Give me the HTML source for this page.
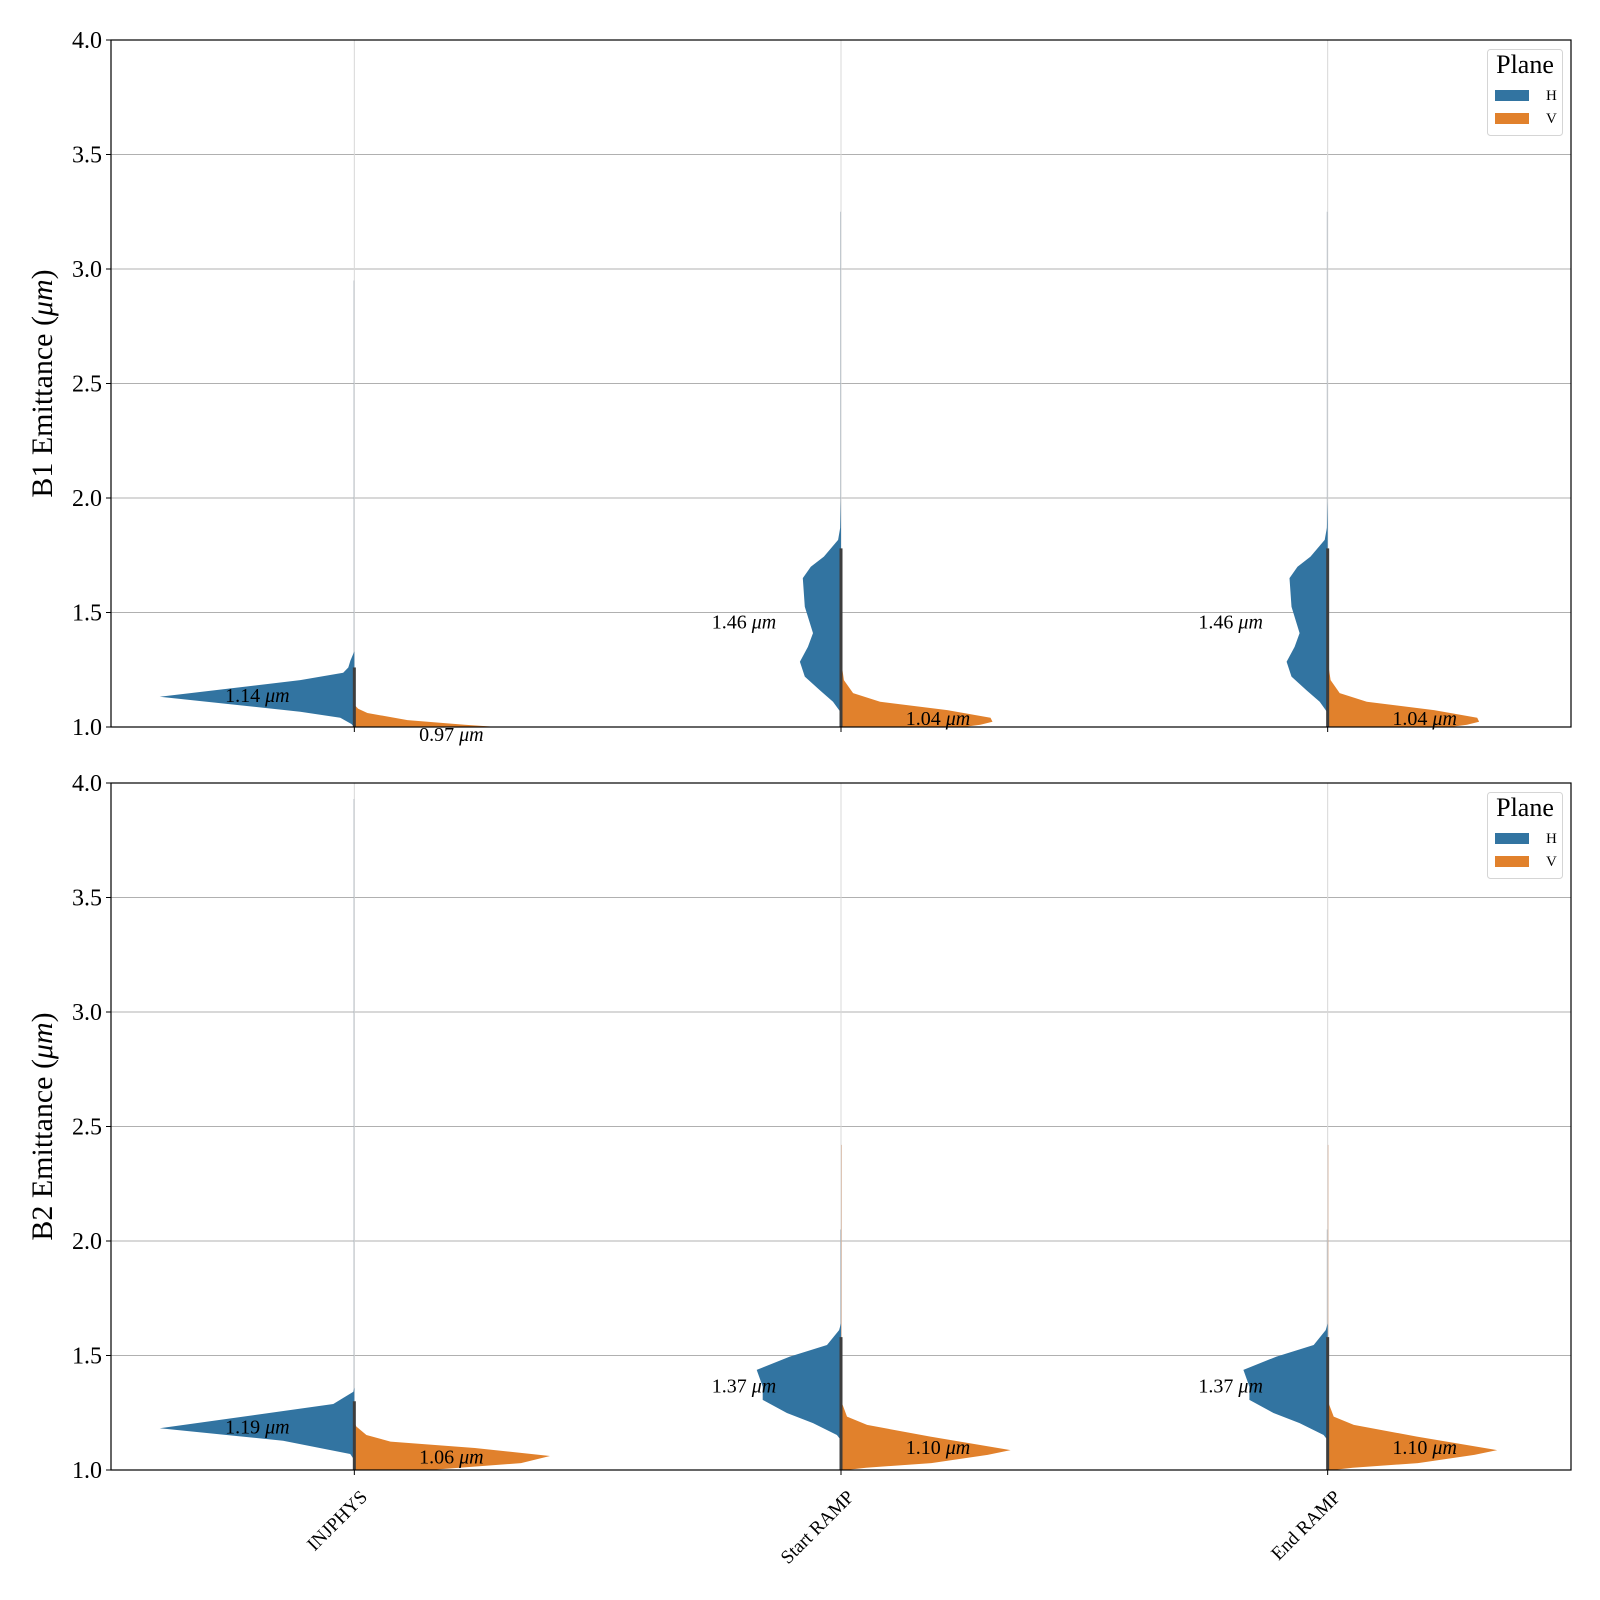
<!DOCTYPE html>
<html><head><meta charset="utf-8">
<style>
html,body{margin:0;padding:0;background:#fff;}
svg{display:block;font-family:"Liberation Serif","DejaVu Serif",serif;}
</style></head>
<body>
<svg id="chart" width="1600" height="1600" viewBox="0 0 1600 1600" xmlns="http://www.w3.org/2000/svg">
<defs>
<clipPath id="clipTop"><rect x="111" y="40" width="1460" height="687"/></clipPath>
<clipPath id="clipBot"><rect x="111" y="783" width="1460" height="687"/></clipPath>
</defs>
</svg>
<script>
// ---- data ----
const categories = ["INJPHYS", "Start RAMP", "End RAMP"];
const yTicks = [1.0, 1.5, 2.0, 2.5, 3.0, 3.5, 4.0];
const yTickLabels = ["1.0", "1.5", "2.0", "2.5", "3.0", "3.5", "4.0"];
// medians [H, V] per category
const b1MedianH = [1.14, 1.46, 1.46];
const b1MedianV = [0.97, 1.04, 1.04];
const b2MedianH = [1.19, 1.37, 1.37];
const b2MedianV = [1.06, 1.10, 1.10];
// tail maximum (thin whisker lines)
const b1TailH = [2.95, 3.25, 3.25];
const b1TailV = [1.10, 1.26, 1.26];
const b2TailH = [3.93, 2.05, 2.05];
const b2TailV = [1.21, 2.42, 2.42];
// top of dense inner stick
const b1Stick = [1.26, 1.78, 1.78];
const b2Stick = [1.30, 1.58, 1.58];
// density profiles [emittance, relative half-width 0..1]
const b1InjH = [[1.0,0],[1.013,0.015],[1.04,0.072],[1.067,0.278],[1.132,1.0],[1.205,0.278],[1.237,0.057],[1.26,0.031],[1.29,0.02],[1.33,0]];
const b1InjV = [[1.0,0.737],[1.01,0.567],[1.03,0.273],[1.061,0.067],[1.08,0.02],[1.093,0.005],[1.12,0]];
const b1RampH = [[1.06,0],[1.074,0.01],[1.11,0.041],[1.16,0.108],[1.22,0.186],[1.285,0.211],[1.35,0.17],[1.41,0.144],[1.525,0.186],[1.65,0.196],[1.70,0.155],[1.744,0.088],[1.817,0.015],[1.87,0.004],[1.99,0]];
const b1RampV = [[1.0,0.63],[1.01,0.716],[1.023,0.778],[1.04,0.768],[1.074,0.546],[1.11,0.201],[1.148,0.062],[1.205,0.015],[1.263,0.005],[1.28,0]];
const b2InjH = [[1.03,0],[1.05,0.005],[1.07,0.021],[1.128,0.366],[1.182,1.0],[1.288,0.108],[1.342,0.005],[1.36,0]];
const b2InjV = [[1.0,0.387],[1.03,0.856],[1.061,1.005],[1.096,0.619],[1.124,0.186],[1.153,0.062],[1.19,0.01],[1.21,0]];
const b2RampH = [[1.13,0],[1.153,0.021],[1.205,0.144],[1.249,0.278],[1.306,0.402],[1.364,0.402],[1.437,0.433],[1.495,0.263],[1.546,0.072],[1.611,0.01],[1.64,0]];
const b2RampV = [[1.0,0.026],[1.01,0.129],[1.03,0.464],[1.066,0.753],[1.087,0.871],[1.146,0.459],[1.197,0.134],[1.233,0.031],[1.292,0.005],[1.31,0]];

const blue = "#3274a1", orange = "#e1812c";
const svg = document.getElementById('chart');
const NS = "http://www.w3.org/2000/svg";
const AX_L = 111, AX_R = 1571, AX_H = 687;
const slot = (AX_R - AX_L) / categories.length;
const halfW = 0.4 * slot;
function xCenter(i){ return AX_L + (i + 0.5) * slot; }
function mk(tag, attrs, parent){ const e = document.createElementNS(NS, tag); for (const k in attrs) e.setAttribute(k, attrs[k]); (parent||svg).appendChild(e); return e; }

function panel(top, title, clip, profH, profV, medH, medV, tailH, tailV, stick, showX, key){
  const yS = v => top + (4 - v) / 3 * AX_H;
  const g = mk('g', {});
  
  
  yTicks.forEach((t) => {
    if (t === 1.0 || t === 4.0) return;
    const l = mk('line', {x1:AX_L, x2:AX_R, y1:yS(t), y2:yS(t), stroke:'#b0b0b0', 'stroke-width':1}, g);
    
    
  });
  categories.forEach((c, i) => {
    const l = mk('line', {x1:xCenter(i), x2:xCenter(i), y1:top, y2:top+AX_H, stroke:'#d8d8d8', 'stroke-width':1}, g);
    
    
  });
  const vg = mk('g', {'clip-path':'url(#' + clip + ')'}, g);
  categories.forEach((c, i) => {
    const cx = xCenter(i);
    const pH = i === 0 ? profH[0] : profH[1];
    const pV = i === 0 ? profV[0] : profV[1];
    const tl = mk('line', {x1:cx-0.5, x2:cx-0.5, y1:yS(tailH[i]), y2:yS(1.0), stroke:'#9aa8b4', 'stroke-width':1, opacity:0.5}, vg);
    
    
    const tv = mk('line', {x1:cx+0.5, x2:cx+0.5, y1:yS(tailV[i]), y2:yS(1.0), stroke:'#d0a080', 'stroke-width':1, opacity:0.5}, vg);
    
    
    let d = 'M' + cx + ',' + yS(pH[0][0]);
    pH.forEach(p => { d += ' L' + (cx - p[1]*halfW).toFixed(1) + ',' + yS(p[0]).toFixed(1); });
    d += ' L' + cx + ',' + yS(pH[pH.length-1][0]) + ' Z';
    const vh = mk('path', {d:d, fill:blue}, vg);
    
    
    let d2 = 'M' + cx + ',' + yS(pV[0][0]);
    pV.forEach(p => { d2 += ' L' + (cx + p[1]*halfW).toFixed(1) + ',' + yS(p[0]).toFixed(1); });
    d2 += ' L' + cx + ',' + yS(pV[pV.length-1][0]) + ' Z';
    const vv = mk('path', {d:d2, fill:orange}, vg);
    
    
    const st = mk('line', {x1:cx, x2:cx, y1:yS(stick[i]), y2:yS(1.0), stroke:'#3d3d3d', 'stroke-width':3}, vg);
    
    
  });
  categories.forEach((c, i) => {
    const cx = xCenter(i);
    [[medH[i], cx - 97, 'h'], [medV[i], cx + 97, 'v']].forEach(m => {
      const t = mk('text', {x:m[1], y:yS(m[0]) + 7, 'text-anchor':'middle', 'font-size':20, fill:'#000'}, g);
      
      
      t.innerHTML = m[0].toFixed(2) + ' <tspan font-style="italic">μm</tspan>';
    });
  });
  const fr = mk('rect', {x:AX_L, y:top, width:AX_R-AX_L, height:AX_H, fill:'none', stroke:'#000', 'stroke-width':1.2}, g);
  
  
  yTicks.forEach((t, k) => {
    mk('line', {x1:AX_L-5, x2:AX_L, y1:yS(t), y2:yS(t), stroke:'#000', 'stroke-width':1}, g);
    const tx = mk('text', {x:AX_L-9, y:yS(t)+8, 'text-anchor':'end', 'font-size':24}, g);
    
    
    tx.textContent = yTickLabels[k];
  });
  const yt = mk('text', {x:0, y:0, 'text-anchor':'middle', 'font-size':30, transform:'translate(52,' + (top + AX_H/2) + ') rotate(-90)'}, g);
  
  
  yt.innerHTML = title + ' Emittance (<tspan font-style="italic">μm</tspan>)';
  categories.forEach((c, i) => {
    mk('line', {x1:xCenter(i), x2:xCenter(i), y1:top+AX_H, y2:top+AX_H+5, stroke:'#000', 'stroke-width':1}, g);
    if (showX) {
      const tx = mk('text', {x:0, y:0, 'text-anchor':'end', 'font-size':19, transform:'translate(' + (xCenter(i)+14) + ',' + (top+AX_H+28) + ') rotate(-45)'}, g);
      
      
      tx.textContent = c;
    }
  });
  const lg = mk('g', {}, g);
  
  
  mk('rect', {x:1487.5, y:top+9.5, width:75, height:86, rx:3, fill:'#fff', stroke:'#d5d5d5', 'stroke-width':1}, lg);
  const lt = mk('text', {x:1525, y:top+33, 'text-anchor':'middle', 'font-size':26}, lg);
  
  
  lt.textContent = 'Plane';
  [['H', blue, 55], ['V', orange, 78]].forEach(e => {
    const en = mk('g', {}, lg);
    
    
    mk('rect', {x:1495, y:top+e[2]-5, width:34, height:11, fill:e[1]}, en);
    const t = mk('text', {x:1546, y:top+e[2]+5, 'text-anchor':'start', 'font-size':15}, en);
    t.textContent = e[0];
  });
}
panel(40, 'B1', 'clipTop', [b1InjH, b1RampH], [b1InjV, b1RampV], b1MedianH, b1MedianV, b1TailH, b1TailV, b1Stick, false, 'b1');
panel(783, 'B2', 'clipBot', [b2InjH, b2RampH], [b2InjV, b2RampV], b2MedianH, b2MedianV, b2TailH, b2TailV, b2Stick, true, 'b2');
</script>
</body></html>
